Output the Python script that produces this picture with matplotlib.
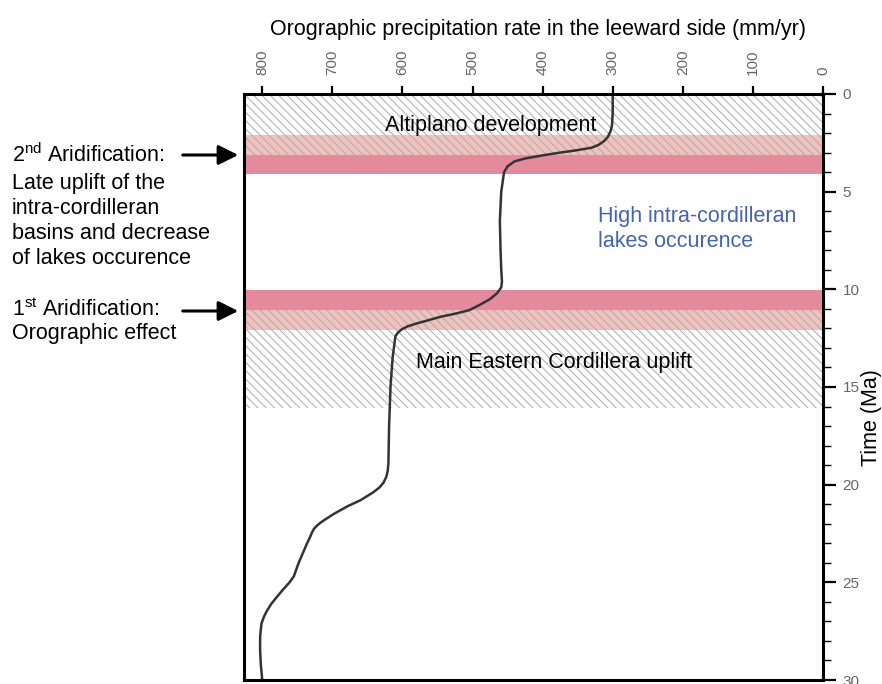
import matplotlib
matplotlib.use("Agg")
import matplotlib.pyplot as plt
from matplotlib.ticker import MultipleLocator

plt.rcParams['font.family'] = ['Liberation Sans', 'DejaVu Sans']
plt.rcParams['mathtext.fontset'] = 'custom'
plt.rcParams['mathtext.rm'] = 'Liberation Sans'
plt.rcParams['hatch.color'] = '#ababab'
plt.rcParams['hatch.linewidth'] = 0.7

# ---- data ----
time_ma = [0, 1.0, 1.6, 1.9, 2.2, 2.4, 2.6, 2.75, 2.9, 3.0, 3.16, 3.3, 3.45, 3.7,
           4.0, 5.0, 6.5, 8.0, 9.0, 9.6, 9.9, 10.2, 10.5, 10.8, 11.07, 11.25,
           11.4, 11.6, 11.75, 11.9, 12.05, 12.2, 12.4, 13.5, 15, 17, 18.9, 19.3,
           19.6, 19.9, 20.15, 20.4, 20.8, 21.1, 21.5, 21.8, 21.95, 22.1, 22.25,
           22.45, 22.7, 23.0, 23.5, 24.0, 24.5, 24.7, 24.85, 25.0, 25.2, 25.4,
           25.7, 26.1, 26.5, 26.8, 27.1, 27.4, 27.8, 28.5, 29.2, 30]
precip = [300, 300, 301, 303, 307, 312, 320, 330, 355, 375, 403, 425, 440, 450,
          455, 459, 461, 460, 459, 458, 459, 465, 475, 490, 505, 525,
          545, 565, 580, 593, 601, 606, 610, 614, 617, 619, 620, 621,
          623, 627, 633, 642, 660, 678, 698, 711, 717, 722, 726,
          729, 732, 736, 742, 748, 753, 755, 758, 761, 766, 771,
          778, 787, 794, 798, 801, 802, 803, 803, 802, 800]

hatch_bands = [(0, 3.1), (11.0, 16.1)]       # uplift phases (Ma)
light_bands = [(2.1, 3.1), (11.0, 12.1)]     # transition
dark_bands = [(3.1, 4.1), (10.05, 11.05)]    # aridification events

x_ticks = [0, 100, 200, 300, 400, 500, 600, 700, 800]
y_ticks = [0, 5, 10, 15, 20, 25, 30]

# ---- figure ----
W, H = 882, 684
fig = plt.figure(figsize=(W / 100, H / 100), dpi=100)
L, R, T, B = 244, 823, 94, 680
ax = fig.add_axes([L / W, 1 - B / H, (R - L) / W, (B - T) / H])

ax.set_xlim(826, 0)
ax.set_ylim(30, 0)

for (a, b) in light_bands:
    ax.axhspan(a, b, facecolor='#f0c1bd', edgecolor='none', zorder=1)
for (a, b) in hatch_bands:
    ax.axhspan(a, b, facecolor='none', edgecolor='#ababab', hatch='\\\\\\\\',
               linewidth=0, zorder=2)
for (a, b) in dark_bands:
    ax.axhspan(a, b, facecolor='#e48a9c', edgecolor='none', zorder=3)

ax.plot(precip, time_ma, color='#333333', lw=1.8, zorder=5,
        solid_joinstyle='round', solid_capstyle='round')

# ticks
ax.xaxis.set_ticks_position('top')
ax.xaxis.set_label_position('top')
ax.set_xticks(x_ticks)
ax.set_xticklabels([str(v) for v in x_ticks], rotation=90)
ax.yaxis.set_ticks_position('right')
ax.set_yticks(y_ticks)
ax.yaxis.set_minor_locator(MultipleLocator(1))
ax.tick_params(axis='x', which='major', length=6, width=1.6, pad=8,
               labelsize=11, labelcolor='#666666', color='black')
ax.tick_params(axis='y', which='major', length=9, width=1.6, pad=5,
               labelsize=11, labelcolor='#666666', color='black')
ax.tick_params(axis='y', which='minor', length=6, width=1.0, color='black')
for s in ax.spines.values():
    s.set_linewidth(2.2)
    s.set_zorder(10)

# texts inside
ax.text(474, 1.6, 'Altiplano development', fontsize=15.5, ha='center',
        va='center', zorder=6)
ax.text(321, 6.9, 'High intra-cordilleran\nlakes occurence', fontsize=15.5,
        ha='left', va='center', color='#4563ae', linespacing=1.25, zorder=6)
ax.text(581, 13.75, 'Main Eastern Cordillera uplift', fontsize=15.5,
        ha='left', va='center', zorder=6)

def fx(px):
    return px / W

def fy(py):
    return 1 - py / H

fig.text(fx(538), fy(30), 'Orographic precipitation rate in the leeward side (mm/yr)',
         fontsize=15.5, ha='center', va='center')
fig.text(fx(871), fy(418), 'Time (Ma)', fontsize=15.5, ha='center',
         va='center', rotation=90)

left_lines = [(155, r'2$^{\mathrm{nd}}$ Aridification:'),
              (183, 'Late uplift of the'),
              (209, 'intra-cordilleran'),
              (234, 'basins and decrease'),
              (259, 'of lakes occurence'),
              (310, r'1$^{\mathrm{st}}$ Aridification:'),
              (334, 'Orographic effect')]
for py, s in left_lines:
    fig.text(fx(12), fy(py), s, fontsize=15.5, ha='left', va='center')

for py in [155, 311]:
    fig.patches.append(matplotlib.patches.FancyArrowPatch(
        (fx(180), fy(py)), (fx(241), fy(py)), transform=fig.transFigure,
        arrowstyle='-|>,head_length=8,head_width=4', mutation_scale=1.5,
        color='black', lw=2.2))

fig.savefig('out.png', dpi=100)
